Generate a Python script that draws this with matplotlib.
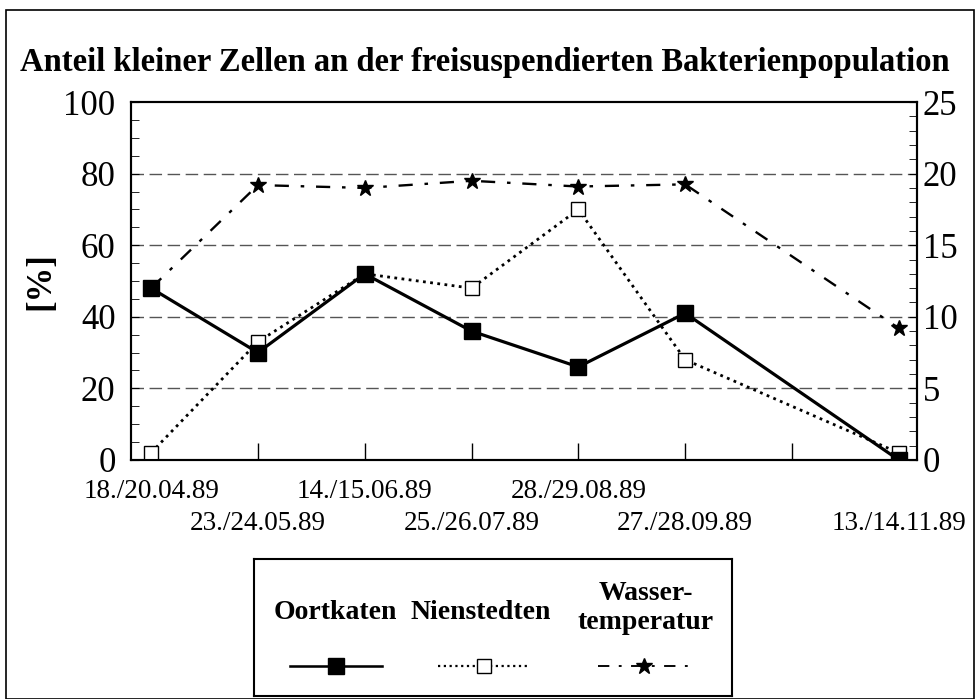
import matplotlib
matplotlib.use("Agg")
import matplotlib.pyplot as plt
from matplotlib.lines import Line2D
from matplotlib.patches import Rectangle
import numpy as np

plt.rcParams['font.family'] = ['Liberation Serif', 'DejaVu Serif']

# ---- data ----
title = "Anteil kleiner Zellen an der freisuspendierten Bakterienpopulation"
positions = [0, 1, 2, 3, 4, 5, 7]
dates = ["18./20.04.89", "23./24.05.89", "14./15.06.89", "25./26.07.89",
         "28./29.08.89", "27./28.09.89", "13./14.11.89"]
oortkaten = [48, 30, 52, 36, 26, 41, 0]
nienstedten = [2, 33, 52, 48, 70, 28, 2]
wassertemp = [12, 19.2, 19.0, 19.5, 19.1, 19.25, 9.2]
series_names = ["Oortkaten", "Nienstedten", "Wasser-\ntemperatur"]
left_ticks = [0, 20, 40, 60, 80, 100]
right_ticks = [0, 5, 10, 15, 20, 25]

fig = plt.figure(figsize=(9.76, 6.99), dpi=100)
ax = fig.add_axes([0.134, 0.342, 0.8055, 0.512])
ax2 = ax.twinx()

sty_o = dict(color='black', lw=2.3, ls='-', marker='s', ms=11, mfc='black', mec='black')
sty_n = dict(color='black', lw=2.0, ls=(0, (1, 1.6)), marker='s', ms=10, mfc='white', mec='black', mew=1)
sty_w = dict(color='black', lw=1.7, ls=(0, (6, 5, 1.5, 5)), marker='*', ms=12, mfc='black', mec='black')

ax.plot(positions, nienstedten, zorder=3, **sty_n)
ax.plot(positions, oortkaten, zorder=4, **sty_o)
ax2.plot(positions, wassertemp, zorder=3, **sty_w)

ax.set_xlim(-0.19, 7.17)
ax.set_ylim(0, 100)
ax2.set_ylim(0, 25)

# grid
for v in [20, 40, 60, 80]:
    ax.axhline(v, color='#555555', lw=1, ls=(0, (9, 4)), zorder=1)

ax.set_yticks(left_ticks)
ax.set_yticks(np.arange(0, 101, 5), minor=True)
ax.tick_params(axis='y', which='major', direction='in', length=6, labelsize=25, pad=11)
ax.tick_params(axis='y', which='minor', direction='in', length=6)
ax2.set_yticks(right_ticks)
ax2.set_yticks(np.arange(0, 26, 1), minor=True)
ax2.tick_params(axis='y', which='major', direction='in', length=6, labelsize=25, pad=4)
ax2.tick_params(axis='y', which='minor', direction='in', length=6)

# two rows of date labels: even slots on top row, odd slots on lower row
top_pos = [p for p in positions if p % 2 == 0]
top_lab = [d for p, d in zip(positions, dates) if p % 2 == 0]
low_pos = [p for p in positions if p % 2 == 1]
low_lab = [d for p, d in zip(positions, dates) if p % 2 == 1]

ax.set_xticks(top_pos)
ax.set_xticklabels(top_lab, fontsize=19.5)
ax.set_xticks([1, 2, 3, 4, 5, 6], minor=True)
ax.xaxis.remove_overlapping_locs = False
ax.tick_params(axis='x', which='major', length=0, pad=14)
ax.tick_params(axis='x', which='minor', direction='in', length=12, width=1)
ax2.tick_params(axis='x', which='both', length=0)

sec = ax.secondary_xaxis('bottom')
sec.set_xticks(low_pos)
sec.set_xticklabels(low_lab, fontsize=19.5)
sec.tick_params(axis='x', length=0, pad=37)
sec.spines['bottom'].set_visible(False)

for a in (ax, ax2):
    for s in a.spines.values():
        s.set_linewidth(1.5)

ax.set_ylabel("[%]", fontsize=25, fontweight='bold', labelpad=4)

fig.text(0.497, 0.911, title, ha='center', va='center', fontsize=23.5, fontweight='bold')

# outer frame
fig.patches.append(Rectangle((0.006, 0.0), 0.992, 0.985, transform=fig.transFigure,
                             fill=False, ec='black', lw=1.2))

# legend box
leg = fig.add_axes([0.260, 0.004, 0.490, 0.197])
leg.set_xlim(0, 1)
leg.set_ylim(0, 1)
leg.set_xticks([])
leg.set_yticks([])
for s in leg.spines.values():
    s.set_linewidth(1.5)
text_centers = [0.170, 0.475, 0.820]
text_y = [0.609, 0.609, 0.638]
line_centers = [0.172, 0.481, 0.816]
styles = [sty_o, sty_n, sty_w]
for tc, ty, lc, name, st in zip(text_centers, text_y, line_centers, series_names, styles):
    leg.text(tc, ty, name, ha='center', va='center', fontsize=20, fontweight='bold',
             linespacing=1.2)
    st2 = dict(st)
    st2['marker'] = 'None'
    st2['lw'] = st['lw'] * 0.8
    leg.add_line(Line2D([lc - 0.096, lc + 0.096], [0.217, 0.217], **st2))
    leg.plot([lc], [0.217], ls='None', marker=st['marker'], ms=st['ms'],
             mfc=st['mfc'], mec=st['mec'])

fig.savefig("out.png", dpi=100)
